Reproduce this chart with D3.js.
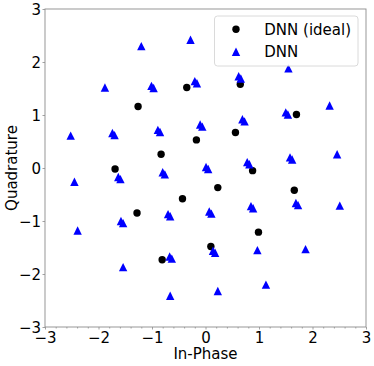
<!DOCTYPE html>
<html>
<head>
<meta charset="utf-8">
<script src="https://cdn.jsdelivr.net/npm/d3@7/dist/d3.min.js"></script>
<style>
  html, body { margin: 0; padding: 0; background: #fff; }
  svg { display: block; font-family: "DejaVu Sans", sans-serif; }
</style>
</head>
<body>
<svg id="chart" width="374" height="366"></svg>
<script>
// ---- data ----
const idealI = [-1.26, -0.35, -0.83, -1.69, 0.65, 1.70, 0.56, -0.17, 0.88, 0.23, 1.66, 0.99, 0.10, -0.43, -1.28, -0.81];
const idealQ = [1.16, 1.52, 0.26, -0.02, 1.58, 1.01, 0.67, 0.53, -0.05, -0.37, -0.42, -1.21, -1.48, -0.58, -0.85, -1.73];

const dnnI = [
  -1.20, -1.88, -2.52, -2.45, -0.28, 1.55, 2.32, 2.46, 2.51, 0.97, 1.87, 0.23, 1.13, -2.39, -1.54, -0.66,
  -1.01, -0.97, -1.74, -1.70, -0.89, -0.85, -0.80, -0.76, -1.63, -1.59,
  -0.20, -0.16, 0.62, 0.66, 1.50, 1.54, -0.10, -0.06, 0.69, 0.73,
  1.58, 1.62, 0.01, 0.05, 0.78, 0.82, 0.07, 0.11, 0.85, 0.89,
  1.69, 1.73, 0.14, 0.18, -1.58, -1.54, -0.70, -0.66, -0.67, -0.63
];
const dnnQ = [
  2.30, 1.52, 0.61, -0.26, 2.42, 1.88, 1.18, 0.26, -0.71, -1.55, -1.53, -2.32, -2.20, -1.18, -1.87, -2.41,
  1.55, 1.51, 0.66, 0.62, 0.72, 0.68, -0.08, -0.12, -0.17, -0.21,
  1.64, 1.60, 1.73, 1.69, 1.05, 1.01, 0.82, 0.78, 0.92, 0.88,
  0.20, 0.16, 0.02, -0.02, 0.11, 0.07, -0.82, -0.86, -0.72, -0.76,
  -0.66, -0.70, -1.56, -1.60, -1.00, -1.04, -0.87, -0.91, -1.67, -1.71
];

const xTicks = [-3, -2, -1, 0, 1, 2, 3];
const yTicks = [-3, -2, -1, 0, 1, 2, 3];
const seriesNames = ["DNN (ideal)", "DNN"];
const xLabel = "In-Phase";
const yLabel = "Quadrature";

(function () {
  // ---- layout ----
  const mLeft = 45, mTop = 9, mRight = 366, mBottom = 327;
  const svg = d3.select("#chart");
  const x = d3.scaleLinear().domain([-3, 3]).range([mLeft, mRight]);
  const y = d3.scaleLinear().domain([-3, 3]).range([mBottom, mTop]);
  const fmt = d => (d < 0 ? "\u2212" + Math.abs(d) : String(d));
  const axisColor = "#8c8c8c";

  const triSize = 8.4;
  const triPath = `M0,${-triSize/2}L${-triSize/2},${triSize/2}L${triSize/2},${triSize/2}Z`;

  const ideal = idealI.map((v, i) => ({ i: v, q: idealQ[i] }));
  const dnn = dnnI.map((v, i) => ({ i: v, q: dnnQ[i] }));

  svg.append("g").selectAll("circle").data(ideal).join("circle")
    .attr("cx", d => x(d.i)).attr("cy", d => y(d.q)).attr("r", 3.7).attr("fill", "#000");

  svg.append("g").selectAll("path").data(dnn).join("path")
    .attr("d", triPath)
    .attr("transform", d => `translate(${x(d.i)},${y(d.q)})`)
    .attr("fill", "#0000ff");

  const xAxis = d3.axisBottom(x).tickValues(xTicks).tickFormat(fmt).tickSize(2.5).tickPadding(2);
  const gx = svg.append("g").attr("transform", `translate(0,${mBottom})`).call(xAxis);
  const minorVals = d3.range(-3, 3.001, 0.2).filter(v => Math.abs(v - Math.round(v)) > 0.01);
  const xMinor = d3.axisBottom(x).tickValues(minorVals).tickFormat("").tickSize(1.5);
  const gxm = svg.append("g").attr("transform", `translate(0,${mBottom})`).call(xMinor);

  const yAxis = d3.axisLeft(y).tickValues(yTicks).tickFormat(fmt).tickSize(2.5).tickPadding(1.5);
  const gy = svg.append("g").attr("transform", `translate(${mLeft},0)`).call(yAxis);

  [gx, gy, gxm].forEach(g => {
    g.selectAll(".domain").remove();
    g.selectAll("line").attr("stroke", axisColor).attr("stroke-width", 0.8);
    g.selectAll("text").attr("fill", "#000").style("font-size", "15px").style("font-family", "DejaVu Sans, sans-serif");
  });
  gx.selectAll("text").attr("dy", null).attr("y", 15.5);
  gy.selectAll("text").attr("dy", "0.36em");

  svg.append("rect").attr("x", mLeft).attr("y", mTop).attr("width", mRight - mLeft).attr("height", mBottom - mTop)
    .attr("fill", "none").attr("stroke", axisColor).attr("stroke-width", 0.9);

  svg.append("text").attr("x", (mLeft + mRight) / 2).attr("y", 359).attr("text-anchor", "middle")
    .style("font-size", "15px").text(xLabel);
  svg.append("text").attr("transform", `translate(16.5,${(mTop + mBottom) / 2}) rotate(-90)`)
    .attr("text-anchor", "middle").style("font-size", "15px").text(yLabel);

  const lg = svg.append("g");
  lg.append("rect").attr("x", 214.5).attr("y", 16).attr("width", 143.5).attr("height", 50).attr("rx", 3)
    .attr("fill", "#fff").attr("fill-opacity", 0.8).attr("stroke", "#d0d0d0").attr("stroke-width", 0.8);
  lg.append("circle").attr("cx", 236).attr("cy", 29.3).attr("r", 3.7).attr("fill", "#000");
  lg.append("path").attr("d", triPath).attr("transform", "translate(236,51.7)").attr("fill", "#0000ff");
  lg.selectAll("text.lt").data(seriesNames).join("text").attr("class", "lt")
    .attr("x", 264.3).attr("y", (d, i) => 29.3 + i * 22.4).attr("dy", "0.36em")
    .style("font-size", "15px").text(d => d);
})();
</script>
</body>
</html>
